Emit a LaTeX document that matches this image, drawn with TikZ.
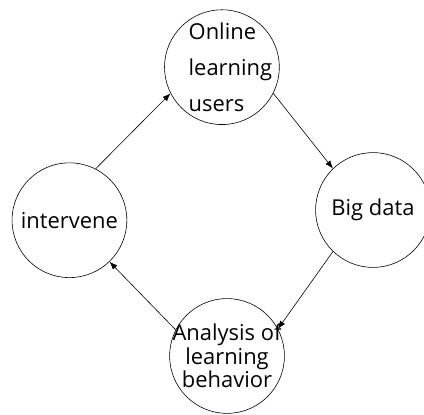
\documentclass[tikz,border=0pt]{standalone}
\usepackage{fontspec}
\setmainfont{Open Sans}
\usetikzlibrary{arrows.meta}
\newcommand{\indentline}{\hspace*{17pt}}
\begin{document}
\begin{tikzpicture}[>={Latex[length=8pt,width=6pt]}, line width=0.6pt,
  stage/.style={draw, circle, minimum size=4.05cm, inner sep=-12pt, font=\fontsize{22}{36}\selectfont}]
\useasboundingbox (0,0) rectangle (14.96,14.61);

\node[stage, align=left] (users) at (7.83,12.24) {\indentline Online\\\indentline learning\\\indentline users};
\node[stage] (bigdata) at (13.16,7.20) {Big data};
\node[stage, align=center, font=\fontsize{22}{23.5}\selectfont] (analysis) at (8.01,2.05) {Analysis of\\learning\\behavior};
\node[stage] (intervene) at (2.45,6.84) {intervene};

\draw[->] (intervene.63)--(users.207);
\draw[->] (users.333)--(bigdata.134);
\draw[->] (bigdata.226)--(analysis.28);
\draw[->] (analysis.153)--(intervene.314);
\end{tikzpicture}
\end{document}
